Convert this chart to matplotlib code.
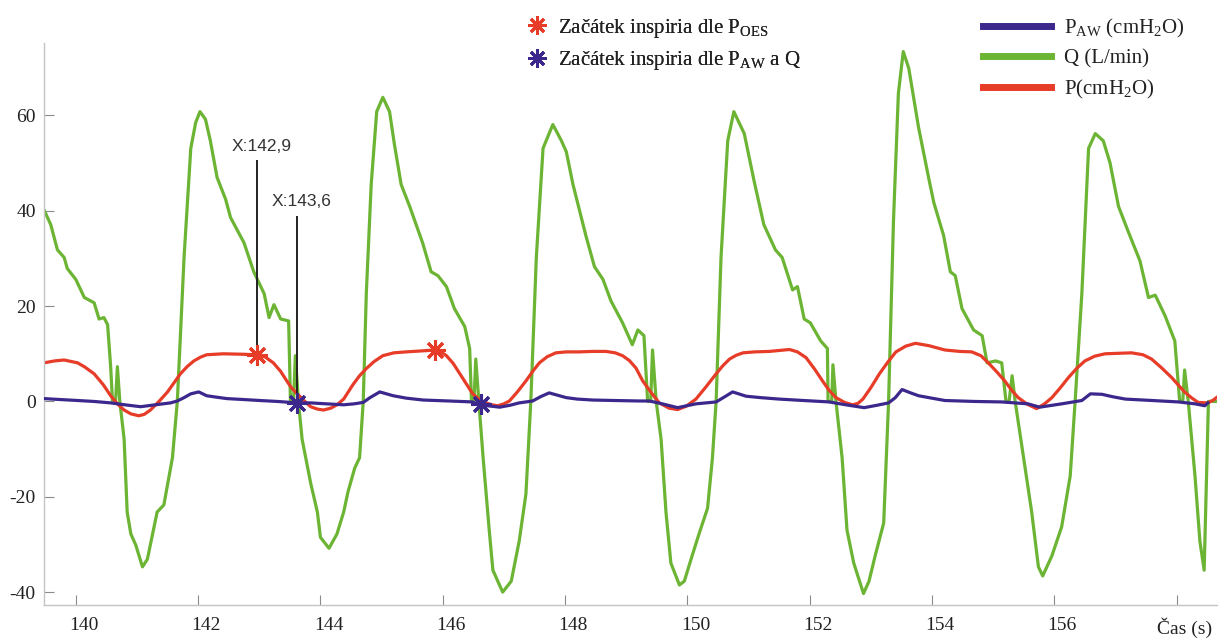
import matplotlib
matplotlib.use("Agg")
import matplotlib.pyplot as plt
from matplotlib.lines import Line2D
from matplotlib.transforms import ScaledTranslation

# --- data ---
q_t = [139.48, 139.59, 139.70, 139.81, 139.86, 140.00, 140.14, 140.30, 140.38, 140.46,
       140.52, 140.57, 140.60, 140.65, 140.68, 140.72, 140.79, 140.84, 140.90, 140.98,
       141.09, 141.17, 141.33, 141.44, 141.58, 141.66, 141.77, 141.88, 141.96, 142.03,
       142.12, 142.20, 142.31, 142.45, 142.53, 142.75, 142.91, 143.08, 143.16, 143.24,
       143.35, 143.48, 143.51, 143.56, 143.59, 143.64, 143.70, 143.84, 143.95, 144.00,
       144.14, 144.27, 144.38, 144.45, 144.56, 144.64, 144.70, 144.75, 144.83, 144.92,
       145.02, 145.13, 145.21, 145.32, 145.46, 145.67, 145.81, 145.92, 146.06, 146.19,
       146.36, 146.44, 146.47, 146.51, 146.54, 146.59, 146.66, 146.76, 146.82, 146.98,
       147.12, 147.25, 147.36, 147.44, 147.53, 147.64, 147.80, 147.94, 148.02, 148.13,
       148.34, 148.48, 148.62, 148.75, 148.94, 149.10, 149.19, 149.29, 149.35, 149.40,
       149.43, 149.49, 149.57, 149.65, 149.73, 149.87, 149.95, 150.06, 150.19, 150.33,
       150.41, 150.47, 150.55, 150.66, 150.76, 150.93, 151.09, 151.25, 151.44, 151.55,
       151.72, 151.80, 151.91, 152.01, 152.18, 152.29, 152.30, 152.36, 152.38, 152.43,
       152.53, 152.61, 152.72, 152.88, 152.97, 153.07, 153.21, 153.29, 153.37, 153.45,
       153.53, 153.62, 153.78, 153.95, 154.03, 154.19, 154.30, 154.38, 154.49, 154.68,
       154.82, 154.90, 155.04, 155.14, 155.21, 155.26, 155.31, 155.36, 155.47, 155.63,
       155.74, 155.81, 155.96, 156.12, 156.26, 156.34, 156.45, 156.56, 156.67, 156.80,
       156.91, 157.05, 157.21, 157.40, 157.54, 157.65, 157.81, 157.97, 158.05, 158.10,
       158.13, 158.19, 158.30, 158.38, 158.45, 158.52, 158.65]
q_v = [40.2, 37.1, 31.8, 30.2, 27.9, 25.6, 21.8, 20.7, 17.3, 17.6,
       16.1, 7.3, 0.0, 0.0, 7.3, 0.0, -7.9, -23.2, -27.8, -30.1,
       -34.7, -33.1, -23.2, -21.7, -11.8, 0.0, 30.2, 53.1, 58.5, 60.8,
       59.2, 54.7, 47.0, 42.4, 38.6, 33.3, 27.2, 22.6, 17.6, 20.3,
       17.3, 16.9, 0.0, 0.0, 9.6, 0.0, -7.9, -17.1, -23.2, -28.5,
       -30.8, -27.8, -23.2, -19.0, -14.0, -11.8, 0.0, 22.6, 45.5, 60.8,
       63.8, 60.8, 53.9, 45.5, 40.9, 33.3, 27.2, 26.4, 24.1, 19.5,
       15.7, 11.1, 0.0, 0.0, 8.9, 0.0, -11.8, -27.0, -35.4, -40.0,
       -37.7, -29.3, -19.4, 0.0, 30.2, 53.1, 58.1, 54.7, 52.4, 45.5,
       34.8, 28.3, 25.6, 21.1, 16.5, 11.9, 15.0, 13.8, 0.0, 0.0,
       10.8, 0.0, -7.9, -23.2, -33.9, -38.5, -37.7, -33.1, -27.8, -22.4,
       -11.8, 0.0, 30.2, 54.7, 60.8, 56.2, 46.3, 37.1, 31.8, 30.2,
       23.4, 24.1, 17.3, 16.5, 12.7, 11.1, 0.0, 0.0, 7.7, 0.0,
       -11.8, -27.0, -33.9, -40.3, -37.7, -32.4, -25.5, 0.0, 37.9, 64.6,
       73.4, 69.9, 57.5, 46.6, 41.7, 34.8, 27.2, 26.4, 19.5, 15.0,
       13.8, 8.1, 8.5, 8.1, 0.0, 0.0, 5.4, 0.0, -9.5, -23.2,
       -34.7, -36.6, -32.4, -26.3, -15.6, 0.0, 22.6, 53.1, 56.2, 54.7,
       50.1, 40.9, 35.6, 29.5, 21.8, 22.3, 18.0, 12.7, 0.0, 0.0,
       6.6, 0.0, -15.6, -29.3, -35.4, 0.0, 0.0]

p_t = [139.48, 139.65, 139.81, 140.03, 140.15, 140.30, 140.45, 140.57, 140.68, 140.79,
       140.90, 141.03, 141.12, 141.22, 141.36, 141.50, 141.61, 141.71, 141.82, 141.93,
       142.04, 142.14, 142.41, 142.74, 142.96, 143.10, 143.23, 143.35, 143.45, 143.53,
       143.62, 143.73, 143.84, 143.95, 144.05, 144.17, 144.27, 144.38, 144.53, 144.64,
       144.75, 144.88, 145.02, 145.20, 145.40, 145.65, 145.87, 145.97, 146.06, 146.17,
       146.28, 146.39, 146.49, 146.60, 146.71, 146.80, 146.90, 147.00, 147.09, 147.22,
       147.36, 147.47, 147.58, 147.71, 147.85, 148.02, 148.23, 148.45, 148.67, 148.82,
       148.94, 149.05, 149.16, 149.27, 149.40, 149.54, 149.70, 149.84, 149.98, 150.14,
       150.30, 150.47, 150.58, 150.69, 150.80, 150.91, 151.10, 151.34, 151.50, 151.67,
       151.80, 151.94, 152.08, 152.21, 152.32, 152.43, 152.57, 152.70, 152.79, 152.87,
       153.00, 153.14, 153.28, 153.41, 153.57, 153.73, 153.95, 154.21, 154.45, 154.65,
       154.80, 154.92, 155.06, 155.19, 155.30, 155.41, 155.56, 155.71, 155.84, 155.96,
       156.10, 156.23, 156.37, 156.50, 156.66, 156.83, 157.05, 157.26, 157.45, 157.59,
       157.75, 157.92, 158.03, 158.13, 158.24, 158.35, 158.51, 158.60, 158.65]
p_v = [8.1, 8.5, 8.7, 8.1, 7.2, 5.8, 3.5, 1.2, -0.5, -1.8,
       -2.6, -3.0, -2.7, -1.8, 0.0, 2.0, 4.0, 5.8, 7.3, 8.5,
       9.3, 9.8, 10.0, 9.9, 9.8, 9.3, 8.1, 6.3, 4.3, 2.8,
       1.6, 0.2, -1.1, -1.6, -1.8, -1.4, -0.7, 0.5, 3.5, 5.4,
       6.9, 8.4, 9.6, 10.2, 10.4, 10.6, 10.8, 10.4, 9.6, 8.0,
       5.8, 3.6, 1.6, 0.4, -0.3, -0.7, -0.9, -0.5, 0.1, 2.0,
       4.3, 6.3, 8.1, 9.4, 10.2, 10.4, 10.4, 10.5, 10.5, 10.2,
       9.6, 8.6, 7.0, 4.3, 2.0, -0.3, -1.4, -1.7, -1.0, 0.5,
       3.0, 5.8, 7.5, 8.9, 9.7, 10.2, 10.4, 10.5, 10.7, 10.9,
       10.4, 9.2, 6.8, 4.3, 2.3, 0.8, -0.2, -0.7, -0.4, 0.5,
       2.9, 5.8, 8.3, 10.4, 11.6, 12.2, 11.7, 10.8, 10.5, 10.4,
       9.6, 8.1, 6.2, 4.3, 2.4, 0.8, -0.6, -1.5, -0.5, 0.8,
       2.9, 5.0, 7.0, 8.5, 9.5, 10.0, 10.1, 10.2, 9.8, 8.9,
       7.1, 5.0, 3.4, 2.0, 0.8, -0.2, -0.3, 0.3, 0.8]

paw_t = [139.48, 139.75, 140.03, 140.30, 140.57, 140.80, 141.06, 141.30, 141.55, 141.66,
         141.77, 141.88, 142.01, 142.14, 142.30, 142.47, 142.75, 143.01, 143.30, 143.62,
         143.84, 144.10, 144.38, 144.55, 144.70, 144.81, 144.97, 145.19, 145.40, 145.68,
         146.10, 146.49, 146.60, 146.93, 147.10, 147.25, 147.47, 147.60, 147.74, 148.02,
         148.20, 148.45, 148.80, 149.21, 149.38, 149.59, 149.84, 150.14, 150.47, 150.60,
         150.74, 150.96, 151.20, 151.50, 151.90, 152.32, 152.59, 152.89, 153.10, 153.29,
         153.40, 153.51, 153.65, 153.78, 153.95, 154.21, 154.70, 155.14, 155.57, 155.76,
         156.12, 156.45, 156.59, 156.78, 156.95, 157.16, 157.60, 158.03, 158.30, 158.46,
         158.51]
paw_v = [0.6, 0.4, 0.2, 0.0, -0.3, -0.7, -1.1, -0.7, -0.3, 0.1,
         0.8, 1.6, 2.0, 1.2, 0.9, 0.6, 0.4, 0.2, 0.0, -0.3,
         -0.3, -0.5, -0.7, -0.5, -0.2, 0.8, 2.0, 1.2, 0.7, 0.3,
         0.1, -0.1, -0.7, -1.2, -0.8, -0.3, 0.1, 1.0, 1.8, 0.8,
         0.5, 0.3, 0.2, 0.1, 0.1, -0.5, -1.3, -0.5, -0.1, 0.9,
         2.0, 1.1, 0.8, 0.5, 0.2, -0.1, -0.7, -1.3, -0.8, -0.3,
         0.8, 2.5, 1.8, 1.2, 0.8, 0.2, 0.0, -0.1, -0.5, -1.2,
         -0.5, 0.2, 1.6, 1.5, 1.0, 0.5, 0.2, -0.1, -0.5, -0.9,
         -0.3]

# inspiration onsets
oes_t = [142.96, 145.87]
oes_v = [9.8, 10.8]
awq_t = [143.62, 146.62]
awq_v = [-0.3, -0.5]

# data tips
tip_x = [142.96, 143.62]
tip_y = [9.8, -0.3]
tip_top = [50.5, 38.8]
tip_labels = ["X:142,9", "X:143,6"]

x_ticks = [140, 142, 144, 146, 148, 150, 152, 154, 156, 158]
x_ticklabels = ["140", "142", "144", "146", "148", "150", "152", "154", "156", "Čas (s)"]
y_ticks = [-40, -20, 0, 20, 40, 60]

c_q = "#6cb433"
c_p = "#e63c28"
c_aw = "#3c288c"

plt.rcParams['font.family'] = ['Liberation Serif', 'DejaVu Serif']
plt.rcParams['axes.unicode_minus'] = False
plt.rcParams['mathtext.fontset'] = 'custom'
plt.rcParams['mathtext.rm'] = 'Liberation Serif'
plt.rcParams['mathtext.it'] = 'Liberation Serif:italic'
plt.rcParams['mathtext.default'] = 'regular'

fig = plt.figure(figsize=(12.28, 6.4), dpi=100)
ax = fig.add_axes([44/1228, 35/640, (1217-44)/1228, (605-43)/640])

ax.plot(q_t, q_v, color=c_q, lw=2.3, zorder=2)
ax.plot(p_t, p_v, color=c_p, lw=2.3, zorder=2.5)
ax.plot(paw_t, paw_v, color=c_aw, lw=2.3, zorder=3)

# data tip lines + labels
for xx, yy, top, lab in zip(tip_x, tip_y, tip_top, tip_labels):
    ax.plot([xx, xx], [yy, top], color="#222222", lw=1.4, zorder=4)
    ax.text(xx - 0.42, top + 1.5, lab, family=['Liberation Sans', 'DejaVu Sans'],
            fontsize=12.5, color="#333333", ha='left', va='bottom', zorder=5)

star = (8, 2, 0)
ax.plot(oes_t, oes_v, ls='none', marker=star, ms=15, mew=2.2, color=c_p, zorder=6)
ax.plot(awq_t, awq_v, ls='none', marker=star, ms=15, mew=2.2, color=c_aw, zorder=6)

ax.set_xlim(139.48, 158.66)
ax.set_ylim(-42.7, 75.2)
ax.set_xticks(x_ticks)
ax.set_xticklabels(x_ticklabels)
ax.set_yticks(y_ticks)

for s in ['top', 'right']:
    ax.spines[s].set_visible(False)
for s in ['left', 'bottom']:
    ax.spines[s].set_color('#c4c4c4')
    ax.spines[s].set_linewidth(1.0)
ax.tick_params(axis='both', direction='in', length=7, width=0.8, color='#8a8a8a',
               labelsize=14, labelcolor='#222222')
ax.tick_params(axis='x', pad=9)
ax.tick_params(axis='y', pad=6)

shift = ScaledTranslation(8/100, 0, fig.dpi_scale_trans)
for lab in ax.get_xticklabels():
    lab.set_transform(lab.get_transform() + shift)

# legends
h1 = [Line2D([], [], ls='none', marker=star, ms=13, mew=2, color=c_p),
      Line2D([], [], ls='none', marker=star, ms=13, mew=2, color=c_aw)]
l1 = ["Začátek inspiria dle P$_{OES}$", "Začátek inspiria dle P$_{AW}$ a Q"]
leg1 = fig.legend(h1, l1, loc='upper left', bbox_to_anchor=(512/1228, 1 - 2/640),
                  frameon=False, fontsize=15, handlelength=1.0, handletextpad=0.5,
                  labelspacing=0.45, borderpad=0.2, labelcolor='#222222')

h2 = [Line2D([], [], color=c_aw, lw=5),
      Line2D([], [], color=c_q, lw=5),
      Line2D([], [], color=c_p, lw=5)]
l2 = ["P$_{AW}$ (cmH$_2$O)", "Q (L/min)", "P(cmH$_2$O)"]
leg2 = fig.legend(h2, l2, loc='upper left', bbox_to_anchor=(968/1228, 1 - 2/640),
                  frameon=False, fontsize=15, handlelength=3.3, handletextpad=0.6,
                  labelspacing=0.45, borderpad=0.2, labelcolor='#222222')
fig.add_artist(leg1)

fig.savefig("out.png", dpi=100)
